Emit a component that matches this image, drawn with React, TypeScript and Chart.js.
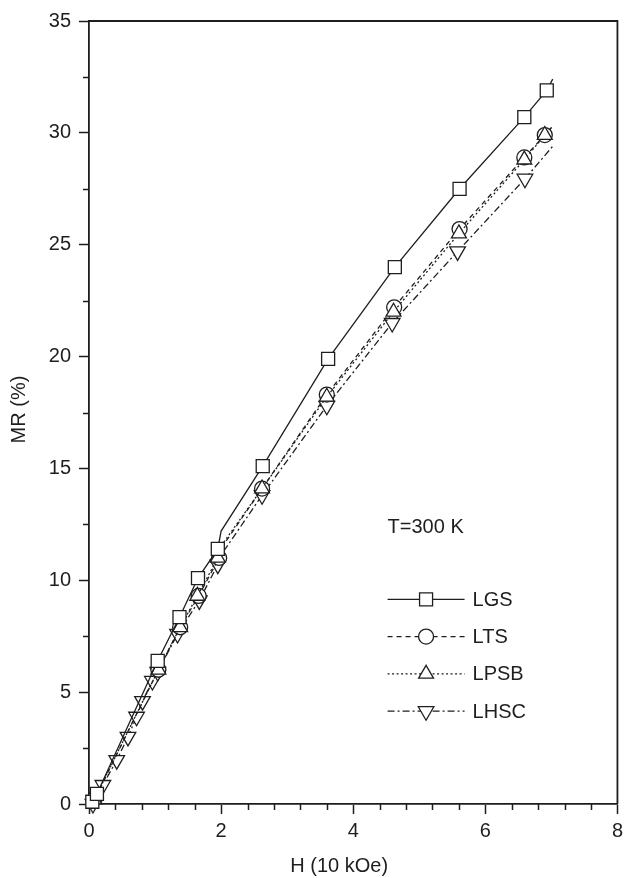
import React, { useEffect, useRef } from 'react';
import { Chart, registerables } from 'chart.js';
import { drawPoint } from 'chart.js/helpers';

Chart.register(...registerables);

// ---- axis ticks ----
const X_TICKS = [0, 2, 4, 6, 8];
const Y_TICKS = [0, 5, 10, 15, 20, 25, 30, 35];
const X_MINOR_STEP = 0.4;
const Y_MINOR_STEP = 2.5;

// ---- texts ----
const X_TITLE = 'H (10 kOe)';
const Y_TITLE = 'MR (%)';
const NOTE = 'T=300 K';
const NAMES = ['LGS', 'LTS', 'LPSB', 'LHSC'];

// ---- series (H in 10 kOe, MR in %); MARK = 1 where a symbol is drawn ----
const LGS_X = [0.05, 0.12, 1.04, 1.37, 1.65, 1.95, 2.0, 2.63, 3.62, 4.63, 5.61, 6.59, 6.93, 7.02];
const LGS_Y = [0.1, 0.45, 6.4, 8.35, 10.1, 11.4, 12.2, 15.1, 19.9, 24.0, 27.5, 30.7, 31.9, 32.4];
const LGS_MARK = [1, 1, 1, 1, 1, 1, 0, 1, 1, 1, 1, 1, 1, 0];

const LTS_X = [0.1, 1.05, 1.38, 1.66, 1.97, 2.04, 2.62, 3.6, 4.62, 5.61, 6.59, 6.9, 7.02];
const LTS_Y = [0.3, 6.0, 7.9, 9.3, 11.0, 11.6, 14.1, 18.3, 22.2, 25.7, 28.9, 29.9, 30.3];
const LTS_MARK = [1, 1, 1, 1, 1, 0, 1, 1, 1, 1, 1, 1, 0];

const LPSB_X = [0.08, 1.05, 1.38, 1.64, 1.95, 2.04, 2.62, 3.6, 4.61, 5.6, 6.59, 6.9, 7.02];
const LPSB_Y = [0.2, 6.0, 7.9, 9.3, 11.0, 11.7, 14.1, 18.2, 22.0, 25.5, 28.8, 29.9, 30.3];
const LPSB_MARK = [1, 1, 1, 1, 1, 0, 1, 1, 1, 1, 1, 1, 0];

const LHSC_X = [0.06, 0.21, 0.42, 0.59, 0.72, 0.81, 0.96, 1.04, 1.34, 1.67, 1.95, 2.04, 2.62, 3.6, 4.59, 5.58, 6.6, 7.02];
const LHSC_Y = [0.0, 0.85, 1.96, 3.0, 3.9, 4.6, 5.5, 5.9, 7.6, 9.1, 10.7, 11.3, 13.8, 17.8, 21.5, 24.7, 27.95, 29.4];
const LHSC_MARK = [1, 1, 1, 1, 1, 1, 1, 1, 1, 1, 1, 0, 1, 1, 1, 1, 1, 0];

const INK = '#1e1e1e';
const FONT = "'Liberation Sans', Arial, Helvetica, sans-serif";
const FSIZE = 20;

type Style = { style: string; rot: number; r: number; dash: number[]; order: number };
const STYLES: Style[] = [
  { style: 'rect', rot: 0, r: 9.2, dash: [], order: 0 },
  { style: 'circle', rot: 0, r: 7.5, dash: [5, 4], order: 2 },
  { style: 'triangle', rot: 0, r: 8.6, dash: [2, 2.5], order: 1 },
  { style: 'triangle', rot: 180, r: 9, dash: [7, 3, 2, 3], order: 3 },
];

const SERIES = [
  { x: LGS_X, y: LGS_Y, m: LGS_MARK },
  { x: LTS_X, y: LTS_Y, m: LTS_MARK },
  { x: LPSB_X, y: LPSB_Y, m: LPSB_MARK },
  { x: LHSC_X, y: LHSC_Y, m: LHSC_MARK },
];

const framePlugin = {
  id: 'frame',
  afterDraw(chart: any) {
    const { ctx, chartArea: a } = chart;
    ctx.save();
    ctx.strokeStyle = INK;
    ctx.lineWidth = 1.8;
    ctx.beginPath();
    ctx.moveTo(a.left, a.top);
    ctx.lineTo(a.right, a.top);
    ctx.lineTo(a.right, a.bottom);
    ctx.stroke();
    // minor ticks
    ctx.lineWidth = 1.5;
    const xs = chart.scales.x;
    const ys = chart.scales.y;
    ctx.beginPath();
    for (let v = X_MINOR_STEP; v < xs.max - 1e-6; v += X_MINOR_STEP) {
      if (Math.abs(v / 2 - Math.round(v / 2)) < 1e-6) continue;
      const px = Math.round(xs.getPixelForValue(v)) + 0.5;
      ctx.moveTo(px, a.bottom);
      ctx.lineTo(px, a.bottom + 6);
    }
    for (let v = Y_MINOR_STEP; v < ys.max - 1e-6; v += Y_MINOR_STEP * 2) {
      const py = Math.round(ys.getPixelForValue(v)) + 0.5;
      ctx.moveTo(a.left, py);
      ctx.lineTo(a.left - 6, py);
    }
    ctx.stroke();
    // axis titles
    ctx.fillStyle = INK;
    ctx.font = `${FSIZE}px ${FONT}`;
    ctx.textAlign = 'center';
    ctx.textBaseline = 'middle';
    ctx.fillText(X_TITLE, (a.left + a.right) / 2 - 14, a.bottom + 62);
    ctx.save();
    ctx.translate(19, (a.top + a.bottom) / 2 - 3);
    ctx.rotate(-Math.PI / 2);
    ctx.fillText(Y_TITLE, 0, 0);
    ctx.restore();
    ctx.restore();
  },
};

const legendPlugin = {
  id: 'inlegend',
  afterDraw(chart: any) {
    const { ctx } = chart;
    const xs = chart.scales.x;
    const ys = chart.scales.y;
    const left = xs.getPixelForValue(4.52);
    const noteY = ys.getPixelForValue(12.37);
    const firstY = ys.getPixelForValue(9.15);
    const rowGap = 37.3;
    const lineLen = 77;
    ctx.save();
    ctx.fillStyle = INK;
    ctx.font = `${FSIZE}px ${FONT}`;
    ctx.textBaseline = 'middle';
    ctx.textAlign = 'left';
    ctx.fillText(NOTE, left, noteY);
    NAMES.forEach((name, i) => {
      const st = STYLES[i];
      const y = firstY + i * rowGap;
      ctx.strokeStyle = INK;
      ctx.lineWidth = 1.3;
      ctx.setLineDash(st.dash);
      ctx.beginPath();
      ctx.moveTo(left, y);
      ctx.lineTo(left + lineLen, y);
      ctx.stroke();
      ctx.setLineDash([]);
      ctx.fillStyle = '#ffffff';
      ctx.lineWidth = 1.3;
      drawPoint(ctx, { pointStyle: st.style, rotation: st.rot, radius: st.r, borderWidth: 1.3 } as any, left + lineLen / 2, y);
      ctx.fillStyle = INK;
      ctx.fillText(name, left + lineLen + 8, y + 1);
    });
    ctx.restore();
  },
};

export default function App() {
  const ref = useRef<HTMLCanvasElement | null>(null);
  useEffect(() => {
    if (!ref.current) return;
    const chart = new Chart(ref.current, {
      type: 'scatter',
      data: {
        datasets: SERIES.map((s, i) => ({
          label: NAMES[i],
          order: STYLES[i].order,
          data: s.x.map((x, j) => ({ x, y: s.y[j] })),
          showLine: true,
          borderColor: INK,
          borderWidth: 1.3,
          borderDash: STYLES[i].dash,
          tension: 0,
          pointStyle: STYLES[i].style as any,
          pointRotation: STYLES[i].rot,
          pointRadius: (c: any) => (s.m[c.dataIndex] ? STYLES[i].r : 0),
          pointHoverRadius: 0,
          pointBorderWidth: 1.3,
          pointBorderColor: INK,
          pointBackgroundColor: '#ffffff',
          clip: false as any,
        })),
      },
      options: {
        responsive: false,
        animation: false,
        events: [],
        layout: { padding: { left: 0, top: 21, right: 7, bottom: 0 } },
        plugins: { legend: { display: false }, tooltip: { enabled: false } },
        scales: {
          x: {
            type: 'linear',
            min: 0,
            max: 8,
            afterFit: (s: any) => { s.height = 74; },
            afterBuildTicks: (s: any) => { s.ticks = X_TICKS.map((v) => ({ value: v })); },
            ticks: { color: INK, font: { family: FONT, size: FSIZE }, padding: 5, maxRotation: 0, autoSkip: false },
            grid: { drawOnChartArea: false, drawTicks: true, tickLength: 10, color: INK, tickColor: INK, tickWidth: 1.5 },
            border: { display: true, color: INK, width: 1.8 },
            title: { display: false },
          },
          y: {
            type: 'linear',
            min: 0,
            max: 35,
            afterFit: (s: any) => { s.width = 89; },
            afterBuildTicks: (s: any) => { s.ticks = Y_TICKS.map((v) => ({ value: v })); },
            ticks: { color: INK, font: { family: FONT, size: FSIZE }, padding: 8, autoSkip: false },
            grid: { drawOnChartArea: false, drawTicks: true, tickLength: 10, color: INK, tickColor: INK, tickWidth: 1.5 },
            border: { display: true, color: INK, width: 1.8 },
            title: { display: false },
          },
        },
      },
      plugins: [framePlugin, legendPlugin],
    } as any);
    return () => chart.destroy();
  }, []);
  return (
    <div style={{ position: 'fixed', left: 0, top: 0, width: 628, height: 878, background: '#fff' }}>
      <canvas ref={ref} width={628} height={878} style={{ display: 'block', width: 628, height: 878 }} />
    </div>
  );
}
